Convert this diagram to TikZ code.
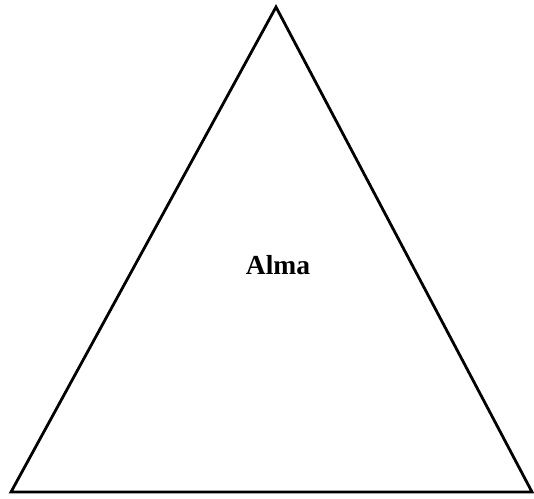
\documentclass[tikz,border=0pt]{standalone}
\usepackage{fontspec}
\setmainfont{Liberation Serif}
\begin{document}
\begin{tikzpicture}[x=1pt,y=-1pt,
  tri/.style={draw=black,line width=2.8pt,line join=miter},
  lbl/.style={font=\bfseries\fontsize{27.5}{32}\selectfont,inner sep=0pt,anchor=base}]
\useasboundingbox (0,0) rectangle (534,498);
\coordinate (top) at (276,7);
\coordinate (bl) at (11,492);
\coordinate (br) at (532,492);
\draw[tri] (top) -- (br) -- (bl) -- cycle;
\node[lbl] (alma) at (278,274) {Alma};
\end{tikzpicture}
\end{document}
